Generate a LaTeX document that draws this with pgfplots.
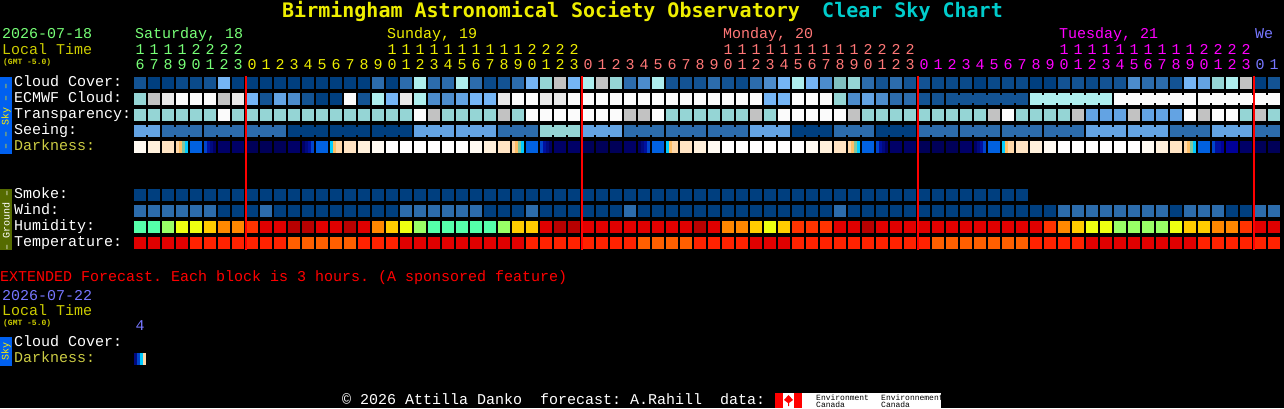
\documentclass[border=0pt]{standalone}
\usepackage{fontspec}
\usepackage{pgfplots}
\usepackage{pgfplotstable}
\pgfplotsset{compat=1.18}
\setmainfont{Liberation Mono}
\newfontfamily\titlefont{DejaVu Sans Mono}
\newcommand\fs[1]{\fontsize{#1}{#1}\selectfont}
\frenchspacing

\definecolor{sat}{HTML}{77FF77}
\definecolor{sun}{HTML}{EEEE00}
\definecolor{mon}{HTML}{FF7777}
\definecolor{tue}{HTML}{FF00FF}
\definecolor{wed}{HTML}{7777FF}
\definecolor{loc}{HTML}{CCCC00}
\definecolor{dark}{HTML}{CCCC44}

% block marks, sizes in pixels (1pt = 1px here)
\pgfdeclareplotmark{cell}{\pgfpathrectangle{\pgfqpoint{-6pt}{-6pt}}{\pgfqpoint{12pt}{12pt}}\pgfusepath{fill}}
\pgfdeclareplotmark{bridge}{\pgfpathrectangle{\pgfqpoint{-1.2pt}{-4pt}}{\pgfqpoint{2.4pt}{8pt}}\pgfusepath{fill}}
\pgfdeclareplotmark{strip}{\pgfpathrectangle{\pgfqpoint{-1.55pt}{-6pt}}{\pgfqpoint{3.1pt}{12pt}}\pgfusepath{fill}}

% one value per hour, index into the colormap below
\pgfplotstableread[row sep=\\]{v\\2\\0\\0\\1\\1\\2\\6\\0\\0\\0\\0\\0\\0\\0\\0\\0\\0\\3\\0\\3\\9\\3\\3\\9\\3\\1\\2\\3\\6\\8\\10\\6\\9\\10\\8\\3\\4\\9\\2\\2\\2\\3\\2\\1\\3\\4\\6\\9\\6\\4\\7\\8\\3\\2\\3\\2\\2\\1\\1\\1\\0\\1\\1\\1\\0\\0\\2\\2\\1\\2\\2\\4\\3\\3\\2\\6\\5\\8\\9\\10\\0\\2\\}\cloud
\pgfplotstableread[row sep=\\]{v\\8\\10\\11\\12\\12\\12\\10\\11\\6\\2\\5\\4\\2\\0\\0\\12\\2\\9\\6\\11\\9\\4\\4\\5\\6\\6\\11\\12\\12\\11\\11\\12\\12\\12\\12\\12\\12\\12\\12\\12\\12\\12\\12\\12\\12\\6\\6\\12\\12\\12\\8\\4\\5\\4\\3\\3\\2\\2\\2\\2\\2\\2\\2\\2\\9\\9\\9\\9\\9\\9\\12\\12\\12\\12\\12\\12\\12\\12\\12\\12\\12\\12\\}\ecmwf
\pgfplotstableread[row sep=\\]{v\\8\\8\\8\\8\\8\\8\\12\\8\\8\\8\\8\\8\\8\\8\\8\\8\\8\\8\\8\\8\\12\\10\\8\\8\\8\\8\\10\\8\\12\\12\\12\\12\\12\\12\\12\\10\\10\\12\\8\\8\\8\\8\\8\\8\\10\\8\\12\\12\\12\\12\\12\\10\\8\\8\\8\\8\\8\\8\\8\\8\\8\\10\\12\\8\\8\\8\\8\\10\\5\\5\\5\\10\\5\\5\\5\\12\\10\\12\\12\\8\\10\\8\\}\transp
\pgfplotstableread[row sep=\\]{v\\5\\5\\3\\3\\3\\3\\3\\3\\3\\3\\3\\0\\0\\0\\0\\0\\0\\0\\0\\0\\5\\5\\5\\5\\5\\5\\3\\3\\3\\8\\8\\8\\5\\5\\5\\3\\3\\3\\3\\3\\3\\3\\3\\3\\5\\5\\5\\0\\0\\0\\3\\3\\3\\0\\0\\0\\3\\3\\3\\3\\3\\3\\3\\3\\3\\3\\3\\3\\5\\5\\5\\5\\5\\5\\3\\3\\3\\5\\5\\5\\3\\3\\}\seeing
\pgfplotstableread[row sep=\\]{c v\\3 27\\0 25\\1 26\\2 27\\4 28\\6 29\\7 29\\8 30\\9 30\\10 30\\11 29\\13 28\\15 27\\16 26\\17 25\\18 24\\19 24\\20 24\\21 24\\22 24\\23 24\\24 25\\25 26\\26 27\\28 28\\30 29\\31 29\\32 30\\33 30\\34 30\\35 29\\37 28\\39 27\\40 26\\41 25\\42 24\\43 24\\44 24\\45 24\\46 24\\47 24\\48 25\\49 26\\50 27\\52 28\\54 29\\55 29\\56 30\\57 30\\58 30\\59 29\\61 28\\63 27\\64 26\\65 25\\66 24\\67 24\\68 24\\69 24\\70 24\\71 24\\72 25\\73 26\\74 27\\76 28\\78 38\\79 29\\80 30\\81 30\\}\darkness
% hours where the sun crosses: four narrow strips per block
\pgfplotstableread[row sep=\\]{c s v\\3 0 31\\3 1 32\\3 2 33\\3 3 34\\5 0 35\\5 1 36\\5 2 37\\5 3 29\\12 0 29\\12 1 37\\12 2 36\\12 3 35\\14 0 34\\14 1 32\\14 2 31\\14 3 31\\27 0 31\\27 1 32\\27 2 33\\27 3 34\\29 0 35\\29 1 36\\29 2 37\\29 3 29\\36 0 29\\36 1 37\\36 2 36\\36 3 35\\38 0 34\\38 1 32\\38 2 31\\38 3 31\\51 0 31\\51 1 32\\51 2 33\\51 3 34\\53 0 35\\53 1 36\\53 2 37\\53 3 29\\60 0 29\\60 1 37\\60 2 36\\60 3 35\\62 0 34\\62 1 32\\62 2 31\\62 3 31\\75 0 31\\75 1 32\\75 2 33\\75 3 34\\77 0 35\\77 1 36\\77 2 36\\77 3 38\\}\darkstrips
\pgfplotstableread[row sep=\\]{c s v\\0 0 37\\0 1 35\\0 2 34\\0 3 31\\}\extstrips
\pgfplotstableread[row sep=\\]{v\\0\\0\\0\\0\\0\\0\\0\\0\\0\\0\\0\\0\\0\\0\\0\\0\\0\\0\\0\\0\\0\\0\\0\\0\\0\\0\\0\\0\\0\\0\\0\\0\\0\\0\\0\\0\\0\\0\\0\\0\\0\\0\\0\\0\\0\\0\\0\\0\\0\\0\\0\\0\\0\\0\\0\\0\\0\\0\\0\\0\\0\\0\\0\\0\\}\smoke
\pgfplotstableread[row sep=\\]{v\\3\\3\\3\\3\\3\\3\\0\\0\\0\\3\\0\\0\\0\\0\\0\\0\\0\\0\\0\\3\\3\\3\\3\\3\\3\\0\\0\\0\\3\\0\\0\\0\\0\\0\\0\\3\\0\\0\\0\\0\\0\\0\\0\\0\\0\\0\\0\\0\\0\\0\\3\\0\\0\\0\\0\\0\\0\\0\\0\\0\\0\\0\\0\\0\\0\\0\\3\\3\\3\\3\\3\\3\\3\\3\\0\\3\\3\\3\\0\\0\\3\\3\\}\wind
\pgfplotstableread[row sep=\\]{v\\20\\20\\19\\18\\18\\17\\16\\16\\15\\14\\14\\13\\13\\14\\14\\13\\14\\16\\17\\18\\19\\20\\20\\20\\20\\20\\19\\17\\17\\14\\13\\13\\14\\14\\14\\14\\14\\14\\14\\14\\13\\14\\16\\16\\17\\18\\17\\15\\15\\15\\14\\14\\13\\14\\14\\14\\14\\14\\14\\14\\14\\14\\14\\14\\14\\15\\16\\17\\18\\18\\19\\19\\19\\19\\18\\17\\17\\16\\16\\15\\14\\14\\}\humidity
\pgfplotstableread[row sep=\\]{v\\14\\14\\14\\14\\22\\22\\22\\22\\22\\22\\22\\23\\23\\23\\23\\23\\22\\22\\22\\14\\14\\14\\14\\14\\14\\14\\14\\14\\22\\22\\22\\22\\22\\22\\22\\22\\23\\23\\23\\23\\22\\22\\22\\22\\14\\14\\14\\22\\22\\22\\22\\22\\22\\22\\22\\22\\22\\23\\23\\23\\23\\23\\23\\23\\22\\22\\22\\22\\14\\14\\14\\14\\14\\14\\14\\14\\22\\22\\22\\22\\22\\22\\}\temperature
% joined blocks: gap after hour c
\pgfplotstableread[row sep=\\]{c v\\58 2\\59 2\\60 2\\61 2\\62 2\\64 9\\65 9\\66 9\\67 9\\68 9\\70 12\\71 12\\72 12\\73 12\\74 12\\76 12\\77 12\\78 12\\79 12\\80 12\\}\ecmwfjoin
\pgfplotstableread[row sep=\\]{c v\\0 5\\2 3\\3 3\\5 3\\6 3\\8 3\\9 3\\11 0\\12 0\\14 0\\15 0\\17 0\\18 0\\20 5\\21 5\\23 5\\24 5\\26 3\\27 3\\29 8\\30 8\\32 5\\33 5\\35 3\\36 3\\38 3\\39 3\\41 3\\42 3\\44 5\\45 5\\47 0\\48 0\\50 3\\51 3\\53 0\\54 0\\56 3\\57 3\\59 3\\60 3\\62 3\\63 3\\65 3\\66 3\\68 5\\69 5\\71 5\\72 5\\74 3\\75 3\\77 5\\78 5\\80 3\\}\seeingjoin

% text helpers
\newcommand\lab[5]{\node[anchor=base west,inner sep=0pt,text=#3] at (axis cs:#1,#2) {\fs{#4}#5};}
\def\hrs#1{\ifx#1\relax\else\makebox[14pt][c]{#1}\expandafter\hrs\fi}
\newcommand\hrow[4]{\node[anchor=base west,inner sep=0pt,text=#3] at (axis cs:#1,#2) {\fs{15}\hrs #4\relax};}
\newcommand\cells[2]{\addplot[blocks,mark=cell] table[x index=0,y index=0,x expr=140+14*\coordindex,y expr=#2,meta=v] {#1};}

\begin{document}
\begin{tikzpicture}
\begin{axis}[
  set layers,
  scale only axis,
  width=1284pt,
  height=408pt,
  xmin=0, xmax=1284,
  ymin=0, ymax=408,
  y dir=reverse,
  ticks=none,
  axis line style={draw=none},
  axis background/.style={fill=black},
  clip=false,
  point meta min=0,
  point meta max=38,
  colormap={csc}{
    HTML=(003F7F) HTML=(0A4A8A) HTML=(135393) HTML=(2C6CAC) HTML=(4C8CCC)
    HTML=(63A3E3) HTML=(75B5F5) HTML=(80C0C0) HTML=(95D5D5) HTML=(AEEEEE)
    HTML=(C2C2C2) HTML=(E9E9E9) HTML=(FBFBFB) HTML=(B80000) HTML=(E00000)
    HTML=(FF3300) HTML=(FF8800) HTML=(FFCC00) HTML=(EEFF11) HTML=(99FF66)
    HTML=(55FFAA) HTML=(FF0000) HTML=(FF2200) HTML=(FF5F00) HTML=(FFFFFF)
    HTML=(FFFAF2) HTML=(FFF0DC) HTML=(FFE4C4) HTML=(0060E0) HTML=(000066)
    HTML=(000058) HTML=(FFD8A8) HTML=(FFBE66) HTML=(80C8A0) HTML=(00CCFF)
    HTML=(0044CC) HTML=(0010A0) HTML=(000A80) HTML=(000099)
  },
  blocks/.style={scatter,only marks,point meta=explicit,
    scatter/use mapped color={draw=none,fill=mapped color}},
]
\cells{\cloud}{83}
\cells{\ecmwf}{99}
\cells{\transp}{115}
\cells{\seeing}{131}
\addplot[blocks,mark=cell] table[x expr=140+14*\thisrow{c},y expr=147,meta=v] {\darkness};
\addplot[blocks,mark=strip] table[x expr=135.5+14*\thisrow{c}+3*\thisrow{s},y expr=147,meta=v] {\darkstrips};
\addplot[blocks,mark=bridge] table[x expr=147+14*\thisrow{c},y expr=99,meta=v] {\ecmwfjoin};
\addplot[blocks,mark=bridge] table[x expr=147+14*\thisrow{c},y expr=131,meta=v] {\seeingjoin};
\cells{\smoke}{195}
\cells{\wind}{211}
\cells{\humidity}{227}
\cells{\temperature}{243}
\addplot[blocks,mark=strip] table[x expr=135.5+14*\thisrow{c}+3*\thisrow{s},y expr=359,meta=v] {\extstrips};

% midnight lines, over the blocks
\addplot[red,line width=2pt,on layer=axis foreground] coordinates {(246,76)(246,250)};
\addplot[red,line width=2pt,on layer=axis foreground] coordinates {(582,76)(582,250)};
\addplot[red,line width=2pt,on layer=axis foreground] coordinates {(918,76)(918,250)};
\addplot[red,line width=2pt,on layer=axis foreground] coordinates {(1254,76)(1254,250)};

% side bars
\fill[fill={rgb,255:red,0;green,96;blue,240}] (axis cs:0,77) rectangle (axis cs:12,154);
\fill[fill={rgb,255:red,85;green,107;blue,0}] (axis cs:0,189) rectangle (axis cs:12,250);
\fill[fill={rgb,255:red,0;green,96;blue,240}] (axis cs:0,337) rectangle (axis cs:12,366);
\node[rotate=90,inner sep=0pt,text=yellow] at (axis cs:6,116) {\fs{10}–~–~Sky~–~–};
\node[rotate=90,inner sep=0pt,text=white] at (axis cs:6,220) {\fs{10}–~Ground~–};
\node[rotate=90,inner sep=0pt,text=yellow] at (axis cs:6,351) {\fs{10}Sky};

% title
\node[anchor=base west,inner sep=0pt,text=sun] at (axis cs:282,18) {\titlefont\bfseries\fs{20}Birmingham Astronomical Society Observatory};
\node[anchor=base west,inner sep=0pt,text={rgb,255:red,0;green,204;blue,204}] at (axis cs:822,18) {\titlefont\bfseries\fs{20}Clear Sky Chart};

% dates and hours
\lab{2}{39}{sat}{15}{2026-07-18}
\lab{2}{55}{loc}{15}{Local Time}
\lab{3}{65}{loc}{8}{\bfseries (GMT -5.0)}
\lab{135}{39}{sat}{15}{Saturday, 18}
\lab{387}{39}{sun}{15}{Sunday, 19}
\lab{723}{39}{mon}{15}{Monday, 20}
\lab{1059}{39}{tue}{15}{Tuesday, 21}
\lab{1255}{39}{wed}{15}{We}
\hrow{133}{55}{sat}{11112222}
\hrow{133}{70}{sat}{67890123}
\hrow{385}{55}{sun}{11111111112222}
\hrow{245}{70}{sun}{012345678901234567890123}
\hrow{721}{55}{mon}{11111111112222}
\hrow{581}{70}{mon}{012345678901234567890123}
\hrow{1057}{55}{tue}{11111111112222}
\hrow{917}{70}{tue}{012345678901234567890123}
\hrow{1253}{70}{wed}{01}

% row labels
\lab{14}{86.5}{white}{15}{Cloud Cover:}
\lab{14}{102.5}{white}{15}{ECMWF Cloud:}
\lab{14}{118.5}{white}{15}{Transparency:}
\lab{14}{134.5}{white}{15}{Seeing:}
\lab{14}{150.5}{dark}{15}{Darkness:}
\lab{14}{198.5}{white}{15}{Smoke:}
\lab{14}{214.5}{white}{15}{Wind:}
\lab{14}{230.5}{white}{15}{Humidity:}
\lab{14}{246.5}{white}{15}{Temperature:}

% extended forecast
\lab{0}{281}{red}{15}{EXTENDED Forecast. Each block is 3 hours. (A sponsored feature)}
\lab{2}{300}{wed}{15}{2026-07-22}
\lab{2}{315}{loc}{15}{Local Time}
\lab{3}{325}{loc}{8}{\bfseries (GMT -5.0)}
\hrow{133}{330}{wed}{4}
\lab{14}{346}{white}{15}{Cloud Cover:}
\lab{14}{362}{dark}{15}{Darkness:}

% footer
\lab{342}{404}{white}{15}{© 2026 Attilla Danko~~forecast: A.Rahill~~data:}
\fill[white] (axis cs:775,393) rectangle (axis cs:941,408);
\fill[red] (axis cs:775,393) rectangle (axis cs:783,408);
\fill[red] (axis cs:794,393) rectangle (axis cs:802,408);
\fill[red] (axis cs:788.5,395) -- (axis cs:793,400) -- (axis cs:789,403) -- (axis cs:789,406) -- (axis cs:788,406) -- (axis cs:788,403) -- (axis cs:784,400) -- cycle;
\lab{816}{400}{black}{8}{Environment}
\lab{816}{407}{black}{8}{Canada}
\lab{881}{400}{black}{8}{Environnement}
\lab{881}{407}{black}{8}{Canada}
\end{axis}
\end{tikzpicture}
\end{document}
